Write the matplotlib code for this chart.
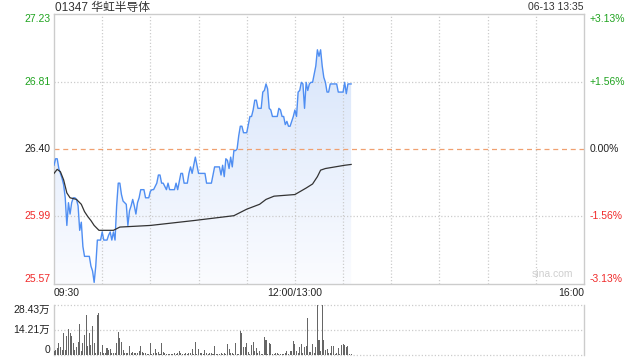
import numpy as np
import matplotlib.pyplot as plt
from matplotlib.colors import LinearSegmentedColormap
from matplotlib.patches import Polygon

plt.rcParams['font.family'] = ['Liberation Sans', 'Noto Sans CJK SC', 'DejaVu Sans']

# 分时数据 (minute index from 09:30, HK session 330 min)
price_ticks = [27.23, 26.81, 26.40, 25.99, 25.57]
pct_labels = ['+3.13%', '+1.56%', '0.00%', '-1.56%', '-3.13%']
vol_ticks = [28.43, 14.21, 0]
vol_labels = ['28.43万', '14.21万', '0']
time_labels = ['09:30', '12:00/13:00', '16:00']
time_pos = [0, 150, 330]

price = [
    26.30, 26.34, 26.34, 26.28, 26.25, 26.22, 26.18, 26.10, 25.93, 26.07,
    26.00, 26.07, 26.10, 26.10, 26.09, 26.05, 25.90, 25.95, 25.80, 25.74,
    25.74, 25.74, 25.74, 25.68, 25.65, 25.58, 25.68, 25.84, 25.84, 25.84,
    25.89, 25.84, 25.84, 25.84, 25.87, 25.89, 25.84, 25.89, 25.84, 26.05,
    26.19, 26.19, 26.12, 26.08, 26.07, 26.06, 25.93, 26.02, 26.05, 26.09,
    26.05, 26.00, 26.07, 26.10, 26.15, 26.15, 26.15, 26.10, 26.10, 26.10,
    26.14, 26.15, 26.15, 26.17, 26.19, 26.24, 26.24, 26.19, 26.19, 26.17,
    26.15, 26.19, 26.15, 26.15, 26.15, 26.15, 26.19, 26.15, 26.20, 26.25,
    26.25, 26.19, 26.19, 26.19, 26.25, 26.29, 26.25, 26.30, 26.35, 26.30,
    26.25, 26.25, 26.25, 26.25, 26.25, 26.19, 26.19, 26.19, 26.19, 26.24,
    26.29, 26.29, 26.29, 26.29, 26.24, 26.30, 26.23, 26.34, 26.33, 26.28,
    26.35, 26.29, 26.39, 26.39, 26.40, 26.48, 26.54, 26.54, 26.50, 26.50,
    26.50, 26.55, 26.60, 26.60, 26.64, 26.70, 26.70, 26.65, 26.65, 26.65,
    26.75, 26.76, 26.80, 26.77, 26.65, 26.64, 26.60, 26.60, 26.60, 26.60,
    26.65, 26.64, 26.60, 26.60, 26.55, 26.57, 26.54, 26.54, 26.57, 26.60,
    26.64, 26.60, 26.75, 26.76, 26.81, 26.80, 26.65, 26.81, 26.76, 26.80,
    26.81, 26.81, 26.86, 26.91, 27.01, 26.97, 27.01, 26.91, 26.84, 26.81,
    26.75, 26.75, 26.80, 26.80, 26.80, 26.80, 26.80, 26.75, 26.75, 26.75,
    26.75, 26.81, 26.74, 26.80, 26.80, 26.80,
]

# 成交量 (万股)
volume = [
    2.0, 2.8, 3.8, 7.0, 4.7, 3.0, 12.7, 2.8, 10.8, 14.8,
    12.3, 10.8, 7.0, 2.8, 4.7, 7.6, 17.7, 2.5, 6.6, 11.4,
    22.8, 5.1, 12.7, 5.7, 16.5, 6.6, 1.3, 22.8, 24.1, 1.9,
    5.7, 1.3, 1.3, 4.2, 2.8, 3.2, 1.3, 1.3, 1.0, 6.6,
    13.3, 9.5, 7.6, 2.8, 1.3, 1.3, 0.9, 5.1, 0.9, 1.9,
    1.3, 0.9, 1.3, 2.5, 5.1, 1.9, 0.9, 0.9, 0.6, 0.6,
    6.6, 0.6, 0.9, 3.2, 1.3, 1.9, 0.6, 7.0, 1.5, 0.9,
    0.6, 0.6, 0.6, 0.6, 0.6, 0.9, 0.6, 0.9, 2.3, 0.9,
    0.6, 0.6, 1.3, 0.6, 0.9, 1.3, 3.2, 0.6, 7.4, 0.6,
    3.2, 0.9, 0.9, 0.6, 2.8, 1.3, 0.6, 0.9, 1.3, 0.6,
    5.1, 0.6, 0.6, 0.6, 0.9, 0.6, 1.3, 0.6, 6.3, 3.2,
    0.9, 1.3, 0.6, 7.0, 0.6, 0.6, 13.8, 12.3, 4.7, 4.7,
    7.0, 1.9, 0.6, 5.7, 7.6, 2.5, 3.8, 0.9, 2.5, 0.6,
    0.6, 10.0, 8.5, 0.6, 7.0, 6.1, 0.6, 0.6, 1.3, 0.9,
    0.6, 0.6, 0.6, 0.6, 0.9, 2.5, 0.6, 2.5, 2.5, 8.1,
    6.3, 2.5, 0.9, 4.7, 6.3, 1.3, 4.4, 5.1, 20.9, 1.9,
    1.9, 6.3, 1.3, 4.7, 28.43, 8.5, 2.5, 28.4, 8.5, 2.8,
    3.2, 0.9, 1.3, 5.1, 5.1, 0.6, 0.9, 3.8, 0.6, 5.7,
    6.3, 5.7, 4.4, 5.1, 0.6, 0.6,
]

# 均价线
avg_min = [0, 2, 4, 6, 8, 10, 14, 17, 19, 21, 23, 25, 28, 37, 41, 60, 87,
           112, 116, 120, 128, 132, 137, 150, 157, 161, 164, 166, 169, 175, 181, 185]
avg_val = [26.25, 26.275, 26.26, 26.21, 26.13, 26.10, 26.09, 26.06, 26.015, 25.985,
           25.96, 25.93, 25.90, 25.90, 25.92, 25.93, 25.96, 25.99, 26.01, 26.03,
           26.06, 26.09, 26.11, 26.12, 26.16, 26.185, 26.23, 26.27, 26.28, 26.29,
           26.30, 26.305]

minutes = np.arange(len(price))
ymin, ymax = price_ticks[-1], price_ticks[0]
green = '#1fa31f'
red = '#f02a2a'
grid_c = '#cccccc'
dots = (0, (1, 1.6))

fig = plt.figure(figsize=(6.4, 3.6), dpi=100)
ax = fig.add_axes([54 / 640, 1 - 284 / 360, 530 / 640, 270 / 360])
axv = fig.add_axes([54 / 640, 1 - 355 / 360, 530 / 640, 50 / 360])

# gradient fill under price
verts = [(minutes[0], ymin)] + list(zip(minutes, price)) + [(minutes[-1], ymin)]
poly = Polygon(verts, closed=True, facecolor='none', edgecolor='none')
ax.add_patch(poly)
cmap = LinearSegmentedColormap.from_list('fade', ['#fbfcff', '#d3e2fa'])
grad = np.linspace(0, 1, 256).reshape(-1, 1)
im = ax.imshow(grad, extent=[0, 330, ymin, ymax], origin='lower', aspect='auto',
               cmap=cmap, zorder=1)
im.set_clip_path(poly)

ax.plot(minutes, price, color='#4f8ef2', lw=1.0, zorder=3)
ax.plot(avg_min, avg_val, color='#333333', lw=0.9, zorder=4)

# grid
for t in range(30, 330, 30):
    ax.axvline(t, color=grid_c, lw=0.9, ls=dots, zorder=2)
for v in [price_ticks[1], price_ticks[3]]:
    ax.axhline(v, color=grid_c, lw=0.9, ls=dots, zorder=2)
ax.axhline(price_ticks[2], color='#f0a070', lw=0.9, ls=(0, (4, 3)), zorder=2)

ax.set_xlim(0, 330)
ax.set_ylim(ymin, ymax)
ax.set_xticks([])
ax.set_yticks([])
for s in ax.spines.values():
    s.set_color(grid_c)
    s.set_linewidth(1)

# price / percent labels
tcolors = [green, green, '#222222', red, red]
vas = ['top', 'center', 'center', 'center', 'bottom']
ytr = ax.get_yaxis_transform()
for v, lab, c, va in zip(price_ticks, pct_labels, tcolors, vas):
    ax.text(-0.007, v, f'{v:.2f}', transform=ytr, ha='right', va=va, color=c, fontsize=7.5)
    ax.text(1.011, v, lab, transform=ytr, ha='left', va=va, color=c, fontsize=7.5)

xtr = ax.get_xaxis_transform()
for pos, lab, ha in zip(time_pos, time_labels, ['left', 'center', 'right']):
    ax.text(pos, -0.033, lab, transform=xtr, ha=ha, va='center', color='#222222', fontsize=7.5)

ax.text(0.94, 0.02, 'sina.com', transform=ax.transAxes, ha='center', va='bottom',
        color='#cfcfcf', fontsize=7.5)

# volume
axv.bar(minutes, volume, width=0.65, color='#666666', zorder=3)
axv.set_xlim(0, 330)
axv.set_ylim(0, vol_ticks[0])
for v in vol_ticks:
    axv.axhline(v, color=grid_c, lw=0.9, ls=dots, zorder=2, clip_on=False)
axv.set_xticks([])
axv.set_yticks([])
axv.spines['top'].set_visible(False)
axv.spines['bottom'].set_visible(False)
for s in ['left', 'right']:
    axv.spines[s].set_color(grid_c)
    axv.spines[s].set_linewidth(1)
vtr = axv.get_yaxis_transform()
for v, lab, va in zip(vol_ticks, vol_labels, ['top', 'center', 'bottom']):
    axv.text(-0.007, v, lab, transform=vtr, ha='right', va=va, color='#222222', fontsize=7.5)

fig.text(55 / 640, 1 - 7.5 / 360, '01347 华虹半导体', ha='left', va='center',
         color='#333333', fontsize=8.5)
fig.text(584 / 640, 1 - 7.5 / 360, '06-13 13:35', ha='right', va='center',
         color='#333333', fontsize=7.5)

fig.savefig('out.png', dpi=100)
